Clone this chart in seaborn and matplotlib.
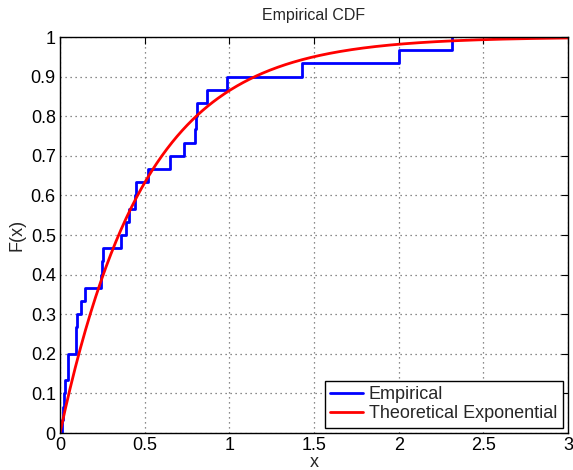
import numpy as np
import seaborn as sns
import matplotlib.pyplot as plt

# sorted sample values (30 samples)
samples = [0.012, 0.018, 0.025, 0.030, 0.045, 0.050, 0.095, 0.097, 0.103, 0.122,
           0.148, 0.244, 0.248, 0.252, 0.358, 0.390, 0.410, 0.443, 0.447, 0.522,
           0.650, 0.734, 0.800, 0.805, 0.810, 0.870, 0.984, 1.427, 2.000, 2.317]
rate = 2.0  # theoretical exponential rate

x_ticks = [0, 0.5, 1, 1.5, 2, 2.5, 3]
x_ticklabels = ['0', '0.5', '1', '1.5', '2', '2.5', '3']
y_ticks = [0, 0.1, 0.2, 0.3, 0.4, 0.5, 0.6, 0.7, 0.8, 0.9, 1]
y_ticklabels = ['0', '0.1', '0.2', '0.3', '0.4', '0.5', '0.6', '0.7', '0.8', '0.9', '1']

sns.set_style('white')
plt.rcParams['font.family'] = ['Liberation Sans', 'DejaVu Sans']
fs = 13

fig = plt.figure(figsize=(5.73, 4.70), dpi=100)
ax = fig.add_axes([60 / 573, 1 - 433 / 470, 508 / 573, 396 / 470])

# empirical CDF
sns.ecdfplot(x=samples, ax=ax, color='blue', linewidth=2, label='Empirical')

# theoretical curve
xs = np.linspace(0, 3, 400)
sns.lineplot(x=xs, y=1 - np.exp(-rate * xs), ax=ax, color='red', linewidth=2,
             label='Theoretical Exponential')

ax.set_xlim(0, 3)
ax.set_ylim(0, 1)
ax.set_xticks(x_ticks)
ax.set_xticklabels(x_ticklabels)
ax.set_yticks(y_ticks)
ax.set_yticklabels(y_ticklabels)
ax.tick_params(direction='in', length=5, width=0.8, top=True, right=True,
               colors='black', labelsize=fs, pad=3)
ax.grid(True, linestyle=(0, (1, 3)), color='0.4', linewidth=0.9)
for s in ax.spines.values():
    s.set_color('black')
    s.set_linewidth(1.0)

ax.set_title('Empirical CDF', fontsize=11.5, pad=12)
ax.set_xlabel('x', fontsize=fs, labelpad=0)
ax.set_ylabel('F(x)', fontsize=fs, labelpad=4)

leg = ax.legend(loc='lower right', fancybox=False, framealpha=1, edgecolor='black',
                fontsize=fs, handlelength=1.85, borderpad=0.3, labelspacing=0.1,
                handletextpad=0.3, borderaxespad=0.3)
leg.get_frame().set_linewidth(1.0)

fig.savefig('out.png', dpi=100)
